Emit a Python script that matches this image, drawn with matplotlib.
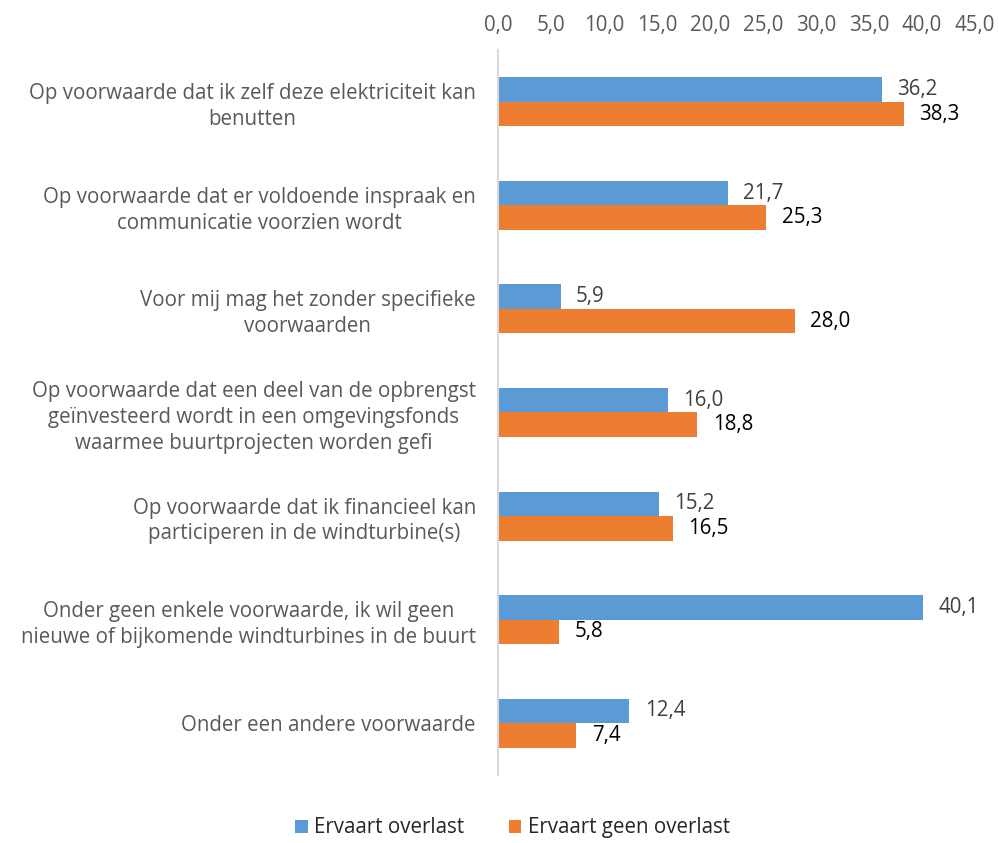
import matplotlib
matplotlib.use("Agg")
import matplotlib.pyplot as plt
import numpy as np

plt.rcParams['font.family'] = ['Open Sans', 'DejaVu Sans']

categories = [
    "Op voorwaarde dat ik zelf deze elektriciteit kan\nbenutten",
    "Op voorwaarde dat er voldoende inspraak en\ncommunicatie voorzien wordt",
    "Voor mij mag het zonder specifieke\nvoorwaarden",
    "Op voorwaarde dat een deel van de opbrengst\ngeïnvesteerd wordt in een omgevingsfonds\nwaarmee buurtprojecten worden gefi",
    "Op voorwaarde dat ik financieel kan\nparticiperen in de windturbine(s)",
    "Onder geen enkele voorwaarde, ik wil geen\nnieuwe of bijkomende windturbines in de buurt",
    "Onder een andere voorwaarde",
]
overlast = [36.2, 21.7, 5.9, 16.0, 15.2, 40.1, 12.4]
geen_overlast = [38.3, 25.3, 28.0, 18.8, 16.5, 5.8, 7.4]
series_names = ["Ervaart overlast", "Ervaart geen overlast"]
xticks = [0, 5, 10, 15, 20, 25, 30, 35, 40, 45]

blue = "#5B9BD5"
orange = "#ED7D31"
fs = 14.8

fig = plt.figure(figsize=(9.99, 8.43), dpi=100)
ax = fig.add_axes([0.4985, 0.0807, 0.4775, 0.86])

y = np.arange(len(categories))
h = 0.237
b1 = ax.barh(y - h / 2, overlast, height=h, color=blue, label=series_names[0])
b2 = ax.barh(y + h / 2, geen_overlast, height=h, color=orange, label=series_names[1])

for v, yy in zip(overlast, y - h / 2):
    ax.text(v + 1.45, yy, f"{v:.1f}".replace(".", ","), va="center", ha="left",
            fontsize=fs, color="#404040")
for v, yy in zip(geen_overlast, y + h / 2):
    ax.text(v + 1.45, yy, f"{v:.1f}".replace(".", ","), va="center", ha="left",
            fontsize=fs, color="black")

ax.set_ylim(6.5, -0.5)
ax.set_xlim(0, 45)
ax.set_xticks(xticks)
ax.set_xticklabels([f"{t:.1f}".replace(".", ",") for t in xticks])
ax.xaxis.tick_top()
ax.tick_params(axis="x", length=0, labelsize=fs, labelcolor="#595959", pad=10)
ax.set_yticks(y)
ax.set_yticklabels(categories, multialignment="center", linespacing=1.3)
ax.tick_params(axis="y", length=0, labelsize=fs, labelcolor="#595959", pad=16)

for s in ["top", "right", "bottom"]:
    ax.spines[s].set_visible(False)
ax.spines["left"].set_color("#D9D9D9")
ax.spines["left"].set_linewidth(1.5)

fig.legend(handles=[b1, b2], loc="center", bbox_to_anchor=(0.513, 0.018), ncol=2,
           frameon=False, fontsize=fs, handlelength=0.6, handleheight=0.6,
           columnspacing=2.2, handletextpad=0.3, labelcolor="#262626")

fig.savefig("out.png", dpi=100)
